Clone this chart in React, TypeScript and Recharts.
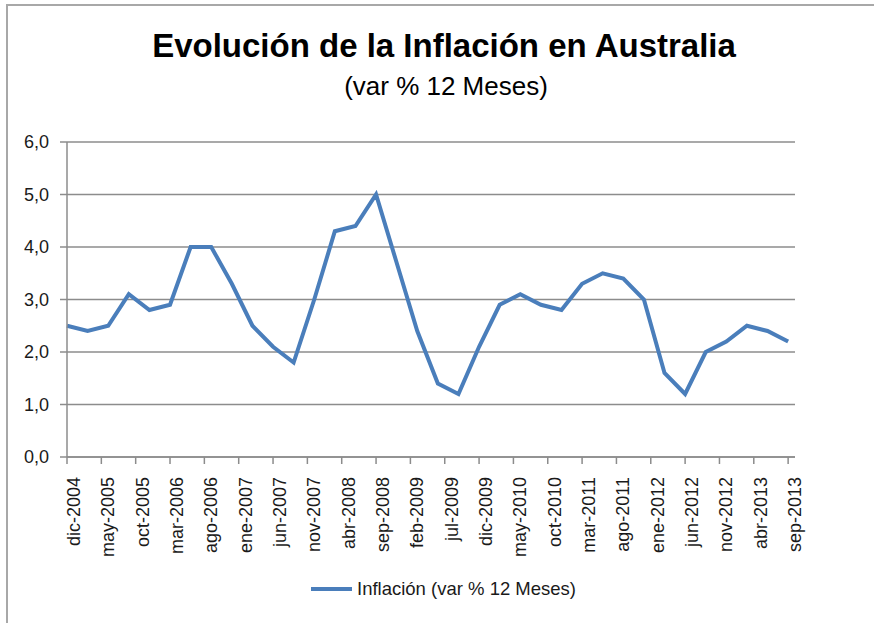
import { LineChart, Line, XAxis, YAxis, CartesianGrid, Legend } from 'recharts';

// quarterly CPI, year-on-year %, dic-2004 .. sep-2013
const QUARTERS = [
  'dic-2004', 'mar-2005', 'jun-2005', 'sep-2005', 'dic-2005',
  'mar-2006', 'jun-2006', 'sep-2006', 'dic-2006',
  'mar-2007', 'jun-2007', 'sep-2007', 'dic-2007',
  'mar-2008', 'jun-2008', 'sep-2008', 'dic-2008',
  'mar-2009', 'jun-2009', 'sep-2009', 'dic-2009',
  'mar-2010', 'jun-2010', 'sep-2010', 'dic-2010',
  'mar-2011', 'jun-2011', 'sep-2011', 'dic-2011',
  'mar-2012', 'jun-2012', 'sep-2012', 'dic-2012',
  'mar-2013', 'jun-2013', 'sep-2013',
];

const INFLATION = [
  2.5, 2.4, 2.5, 3.1, 2.8,
  2.9, 4.0, 4.0, 3.3,
  2.5, 2.1, 1.8, 3.0,
  4.3, 4.4, 5.0, 3.7,
  2.4, 1.4, 1.2, 2.1,
  2.9, 3.1, 2.9, 2.8,
  3.3, 3.5, 3.4, 3.0,
  1.6, 1.2, 2.0, 2.2,
  2.5, 2.4, 2.2,
];

// axis labels every 5 months starting at dic-2004
const X_TICK_LABELS = [
  'dic-2004', 'may-2005', 'oct-2005', 'mar-2006', 'ago-2006', 'ene-2007',
  'jun-2007', 'nov-2007', 'abr-2008', 'sep-2008', 'feb-2009', 'jul-2009',
  'dic-2009', 'may-2010', 'oct-2010', 'mar-2011', 'ago-2011', 'ene-2012',
  'jun-2012', 'nov-2012', 'abr-2013', 'sep-2013',
];

const Y_TICKS = [0, 1, 2, 3, 4, 5, 6];

const SERIES_NAME = 'Inflación (var % 12 Meses)';
const LINE_COLOR = '#4a7ebb';
const GRID_COLOR = '#8c8c8c';
const FONT = '"Liberation Sans", Arial, sans-serif';

// months since dic-2004
const data = QUARTERS.map((q, i) => ({ label: q, month: i * 3, value: INFLATION[i] }));
const xTicks = X_TICK_LABELS.map((_, i) => i * 5);

function XTick(props: any) {
  const { x, y, payload } = props;
  const label = X_TICK_LABELS[Math.round(payload.value / 5)] ?? '';
  return (
    <g transform={`translate(${x},${y})`}>
      <text
        x={-13}
        y={13}
        transform="rotate(-90)"
        textAnchor="end"
        fontSize={18}
        fontFamily={FONT}
        fill="#1a1a1a"
      >
        {label}
      </text>
    </g>
  );
}

function LegendContent() {
  return (
    <div style={{ display: 'flex', alignItems: 'center', fontFamily: FONT, fontSize: 18.5, color: '#1a1a1a', whiteSpace: 'nowrap' }}>
      <svg width={41} height={6} style={{ marginRight: 5 }}>
        <line x1={0} y1={3} x2={41} y2={3} stroke={LINE_COLOR} strokeWidth={4} />
      </svg>
      <span>{SERIES_NAME}</span>
    </div>
  );
}

export default function App() {
  return (
    <div style={{ position: 'absolute', left: 0, top: 0, width: 874, height: 623, background: '#fff', overflow: 'hidden' }}>
      <div
        style={{
          position: 'absolute',
          left: 6,
          top: 4,
          width: 900,
          height: 700,
          borderLeft: '2px solid #a8a8a8',
          borderTop: '2px solid #a8a8a8',
        }}
      />
      <div
        style={{
          position: 'absolute',
          left: 0,
          width: 874,
          top: 29,
          textAlign: 'center',
          fontFamily: FONT,
          fontWeight: 'bold',
          fontSize: 33,
          lineHeight: 1,
          color: '#000',
          paddingLeft: 14,
          boxSizing: 'border-box',
        }}
      >
        Evolución de la Inflación en Australia
      </div>
      <div
        style={{
          position: 'absolute',
          left: 0,
          width: 874,
          top: 73,
          textAlign: 'center',
          fontFamily: FONT,
          fontSize: 26,
          lineHeight: 1,
          color: '#000',
          paddingLeft: 18,
          boxSizing: 'border-box',
        }}
      >
        (var % 12 Meses)
      </div>
      <div style={{ position: 'absolute', left: 0, top: 0 }}>
        <LineChart
          width={874}
          height={623}
          data={data}
          margin={{ top: 142, right: 79, left: 7, bottom: 66 }}
        >
          <CartesianGrid horizontal vertical={false} stroke={GRID_COLOR} strokeWidth={1.5} />
          <XAxis
            dataKey="month"
            type="number"
            domain={[0, 106]}
            ticks={xTicks}
            interval={0}
            height={100}
            tickSize={7}
            tickMargin={0}
            stroke={GRID_COLOR}
            strokeWidth={1.5}
            tick={<XTick />}
          />
          <YAxis
            type="number"
            domain={[0, 6]}
            ticks={Y_TICKS}
            width={60}
            tickSize={7}
            tickMargin={11}
            stroke={GRID_COLOR}
            strokeWidth={1.5}
            tickFormatter={(v: number) => v.toFixed(1).replace('.', ',')}
            tick={{ fill: '#1a1a1a', fontSize: 18, fontFamily: FONT }}
          />
          <Line
            type="linear"
            dataKey="value"
            name={SERIES_NAME}
            stroke={LINE_COLOR}
            strokeWidth={4}
            dot={false}
            isAnimationActive={false}
          />
          <Legend
            layout="horizontal"
            verticalAlign="middle"
            align="center"
            content={<LegendContent />}
            wrapperStyle={{ top: 578, left: 311, width: 'auto' }}
          />
        </LineChart>
      </div>
    </div>
  );
}
